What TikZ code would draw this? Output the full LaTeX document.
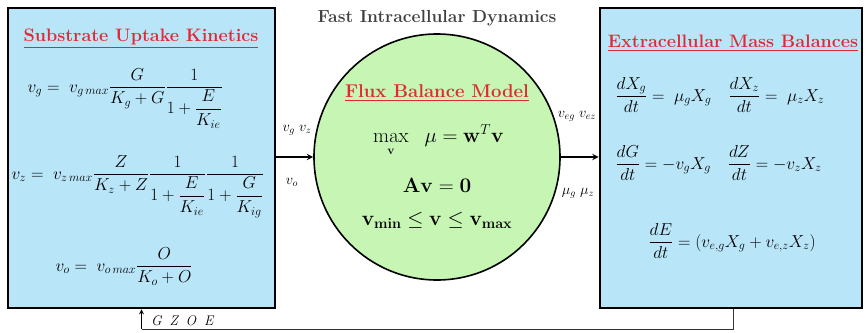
\documentclass[tikz,border=0pt]{standalone}
\usepackage{amsmath}
\usetikzlibrary{positioning}
\definecolor{panelblue}{RGB}{185,229,248}
\definecolor{fbmgreen}{RGB}{198,245,180}
\definecolor{titlered}{RGB}{226,40,52}
\tikzset{
  panel/.style={draw=black, line width=2.8pt, fill=panelblue},
  fbmcircle/.style={circle, draw=black, line width=1.6pt, fill=fbmgreen, inner sep=0pt},
  heading/.style={font=\fontsize{18}{21}\selectfont\bfseries, text=titlered},
  eqn/.style={font=\fontsize{17}{20}\selectfont},
  fbmeqn/.style={font=\fontsize{21}{24}\selectfont},
  flowarrow/.style={->, line width=1.8pt, >=stealth},
  feedback/.style={line width=1pt, draw=black!80},
  flowlab/.style={font=\fontsize{14}{16}\selectfont, inner sep=1pt}
}
\begin{document}
\begin{tikzpicture}[x=1pt,y=-1pt]
  \useasboundingbox (0,0) rectangle (866,332);
  % boxes
  \node[panel, minimum width=267pt, minimum height=300pt] (uptake) at (141.5,158) {};
  \node[panel, minimum width=262pt, minimum height=300pt] (balance) at (731,158) {};
  \node[fbmcircle, minimum size=246pt] (fbm) at (437,157) {};
  \node[font=\fontsize{17.5}{20}\selectfont\bfseries, text=black!75] (fast) at (437,18) {Fast Intracellular Dynamics};
  % left panel
  \node[heading] (uptakeT) at (141,39) {\underline{Substrate Uptake Kinetics}};
  \node[eqn, anchor=base west] (eqg) at (24,92)
    {$v_g = \;v_{g\,max}\dfrac{G}{K_g+G}\dfrac{1}{1+\dfrac{E}{K_{ie}}}$};
  \node[eqn, anchor=base west] (eqz) at (8,179)
    {$v_z = \;v_{z\,max}\dfrac{Z}{K_z+Z}\dfrac{1}{1+\dfrac{E}{K_{ie}}}\dfrac{1}{1+\dfrac{G}{K_{ig}}}$};
  \node[eqn, anchor=base west] (eqo) at (52,271)
    {$v_o = \;v_{o\,max}\dfrac{O}{K_o+O}$};
  % circle
  \node[heading, font=\fontsize{18.5}{22}\selectfont\bfseries] (fbmT) at (437,93) {\underline{Flux Balance Model}};
  \node[fbmeqn, anchor=base, inner sep=1pt] (objmax) at (391,142) {$\mathrm{max}$};
  \node[font=\fontsize{12}{14}\selectfont, below=5pt of objmax, inner sep=0.5pt] (objvar) {$\mathbf{v}$};
  \node[fbmeqn, anchor=base west] (obj) at (421,142) {$\mu = \mathbf{w}^T\mathbf{v}$};
  \node[fbmeqn] (stoich) at (437,185) {$\mathbf{Av = 0}$};
  \node[fbmeqn] (bounds) at (437,220) {$\mathbf{v_{min}} \le \mathbf{v} \le \mathbf{v_{max}}$};
  % right panel
  \node[heading] (balanceT) at (733,43) {\underline{Extracellular Mass Balances}};
  \node[eqn, anchor=base west] (eqx) at (612,101)
    {$\dfrac{dX_g}{dt} = \;\mu_g X_g \quad \dfrac{dX_z}{dt} = \;\mu_z X_z$};
  \node[eqn, anchor=base west] (eqs) at (612,169)
    {$\dfrac{dG}{dt} = -v_g X_g \quad \dfrac{dZ}{dt} = -v_z X_z$};
  \node[eqn, anchor=base west] (eqe) at (645,247)
    {$\dfrac{dE}{dt} = \left(v_{e,g}X_g + v_{e,z}X_z\right)$};
  % connectors
  \draw[flowarrow] (uptake.east |- fbm.west) -- (fbm.west);
  \node[flowlab] (inup) at (297,130) {$v_g\; v_z$};
  \node[flowlab] (inlo) at (292,182) {$v_o$};
  \draw[flowarrow] (fbm.east) -- (balance.west |- fbm.east);
  \node[flowlab] (outup) at (577,116) {$v_{eg}\; v_{ez}$};
  \node[flowlab] (outlo) at (578,193) {$\mu_g\; \mu_z$};
  \coordinate (fbturn) at (733,329);
  \draw[feedback] (balance.south -| fbturn) -- (fbturn) -- (fbturn -| uptake.south);
  \draw[flowarrow, line width=1.2pt] (fbturn -| uptake.south) -- (uptake.south);
  \node[flowlab, anchor=west, font=\fontsize{14}{16}\selectfont\itshape] (fblab) at (150,321) {G\;\;Z\;\;O\;\;E};
\end{tikzpicture}
\end{document}
